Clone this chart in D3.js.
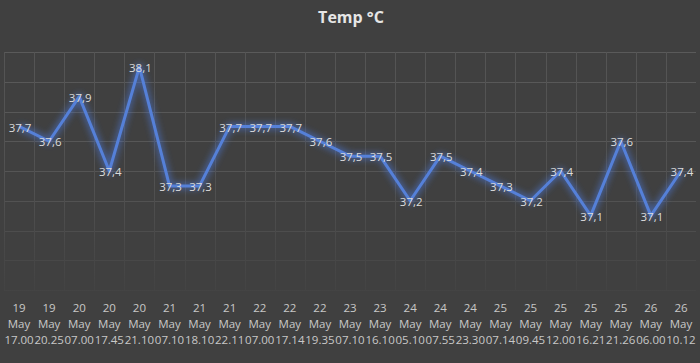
<!DOCTYPE html>
<html>
<head>
<meta charset="utf-8">
<script src="https://cdn.jsdelivr.net/npm/d3@7"></script>
<style>
  html, body { margin: 0; padding: 0; background: #404040; }
  svg { display: block; }
</style>
</head>
<body>
<div id="chart"></div>
<script>
// readings
var days = ["19","19","20","20","20","21","21","21","22","22","22","23","23","24","24","24","25","25","25","25","25","26","26"];
var times = ["17.00","20.25","07.00","17.45","21.10","07.10","18.10","22.11","07.00","17.14","19.35","07.10","16.10","05.10","07.55","23.30","07.14","09.45","12.00","16.21","21.26","06.00","10.12"];
var temps = [37.7,37.6,37.9,37.4,38.1,37.3,37.3,37.7,37.7,37.7,37.6,37.5,37.5,37.2,37.5,37.4,37.3,37.2,37.4,37.1,37.6,37.1,37.4];
var yTicks = [36.6,36.8,37.0,37.2,37.4,37.6,37.8,38.0,38.2];

var W = 700, H = 363;
var margin = {top: 52, right: 4, bottom: 73, left: 4},
    width = W - margin.left - margin.right,
    height = H - margin.top - margin.bottom;

var svg = d3.select("#chart").append("svg")
    .attr("width", W)
    .attr("height", H);

svg.append("rect").attr("width", W).attr("height", H).attr("fill", "#404040");

var defs = svg.append("defs");
var glow = defs.append("filter").attr("id", "glow")
    .attr("x", "-10%").attr("y", "-20%").attr("width", "120%").attr("height", "140%");
glow.append("feGaussianBlur").attr("stdDeviation", 3);

var fade = defs.append("linearGradient").attr("id", "fade")
    .attr("x1", 0).attr("y1", 0).attr("x2", 0).attr("y2", 1);
fade.append("stop").attr("offset", "0%").attr("stop-color", "#fff").attr("stop-opacity", 1);
fade.append("stop").attr("offset", "55%").attr("stop-color", "#fff").attr("stop-opacity", 0.8);
fade.append("stop").attr("offset", "100%").attr("stop-color", "#fff").attr("stop-opacity", 0.15);
var mask = defs.append("mask").attr("id", "gridmask");
mask.append("rect").attr("x", 0).attr("y", -2).attr("width", width).attr("height", height + 4)
    .attr("fill", "url(#fade)");

svg.append("text")
    .attr("x", W / 2 + 1)
    .attr("y", 23)
    .attr("text-anchor", "middle")
    .attr("font-family", "'Open Sans', sans-serif")
    .attr("font-weight", "bold")
    .attr("font-size", "16px")
    .attr("fill", "#e6e6e6")
    .text("Temp °C");

var g = svg.append("g")
    .attr("transform", "translate(" + margin.left + "," + margin.top + ")");

var x = d3.scaleBand()
    .domain(d3.range(temps.length))
    .range([0, width]);

var y = d3.scaleLinear()
    .domain([36.6, 38.2])
    .range([height, 0]);

// gridlines
var grid = g.append("g").attr("mask", "url(#gridmask)");
grid.selectAll(".hgrid")
    .data(yTicks)
  .enter().append("line")
    .attr("x1", 0).attr("x2", width)
    .attr("y1", function(d) { return Math.round(y(d)) + 0.5; })
    .attr("y2", function(d) { return Math.round(y(d)) + 0.5; })
    .attr("stroke", "#5a5a5a");

grid.selectAll(".vgrid")
    .data(d3.range(temps.length + 1))
  .enter().append("line")
    .attr("x1", function(d) { return Math.round(d * x.step()) + 0.5; })
    .attr("x2", function(d) { return Math.round(d * x.step()) + 0.5; })
    .attr("y1", 0).attr("y2", height)
    .attr("stroke", "#555555");

// line
var line = d3.line()
    .x(function(d, i) { return x(i) + x.bandwidth() / 2; })
    .y(function(d) { return y(d); });

g.append("path")
    .datum(temps)
    .attr("d", line)
    .attr("fill", "none")
    .attr("stroke", "#4a78d8")
    .attr("stroke-width", 7)
    .attr("stroke-opacity", 0.55)
    .attr("stroke-linejoin", "round")
    .attr("filter", "url(#glow)");

g.append("path")
    .datum(temps)
    .attr("d", line)
    .attr("fill", "none")
    .attr("stroke", "#5580d8")
    .attr("stroke-width", 3)
    .attr("stroke-linejoin", "round");

// data labels
var fmt = function(v) { return d3.format(".1f")(v).replace(".", ","); };
g.selectAll(".lbl")
    .data(temps)
  .enter().append("text")
    .attr("x", function(d, i) { return x(i) + x.bandwidth() / 2 + 1; })
    .attr("y", function(d) { return y(d); })
    .attr("dy", "0.45em")
    .attr("text-anchor", "middle")
    .attr("font-family", "'Open Sans', sans-serif")
    .attr("font-size", "11.5px")
    .attr("fill", "#dcdcdc")
    .text(fmt);

// x axis labels, three rows
var xa = g.append("g")
    .attr("transform", "translate(0," + height + ")")
    .attr("font-family", "'Open Sans', sans-serif")
    .attr("font-size", "11.5px")
    .attr("fill", "#c8c8c8")
    .attr("text-anchor", "middle");

var rows = [days, days.map(function() { return "May"; }), times];
rows.forEach(function(arr, r) {
  xa.selectAll(".r" + r)
      .data(arr)
    .enter().append("text")
      .attr("x", function(d, i) { return x(i) + x.bandwidth() / 2; })
      .attr("y", 22 + r * 16)
      .text(function(d) { return d; });
});
</script>
</body>
</html>
